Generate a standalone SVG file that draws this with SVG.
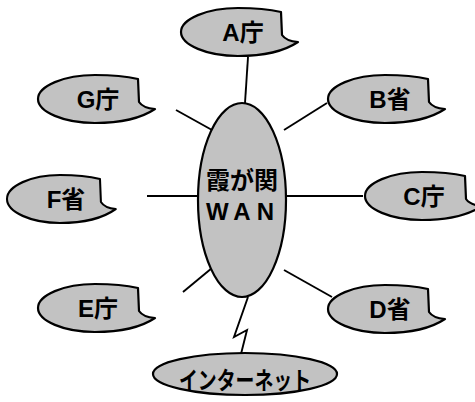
<svg xmlns="http://www.w3.org/2000/svg" xmlns:xlink="http://www.w3.org/1999/xlink" width="475" height="402" viewBox="0 0 475 402">
<style>
.sh{fill:#c2c2c2;stroke:#000;stroke-width:2.2;stroke-linejoin:round}
.ln{stroke:#000;stroke-width:1.9;fill:none}
.t{font-family:"Liberation Sans","Noto Sans CJK JP",sans-serif;font-weight:bold;font-size:24px;fill:#000;text-anchor:middle}
</style>
<defs>
<path id="bub" d="M43,-20 C30,-23 15,-24 0,-24 C-31,-24 -57,-13 -57,0 C-57,13 -31,24 0,24 C25,24 45,20 60,10 Q48,9 44,3 L43,-20 Z"/>
</defs>
<rect width="475" height="402" fill="#fff"/>
<g id="connectors">
<line class="ln" x1="248" y1="57" x2="245" y2="103"/>
<line class="ln" x1="176" y1="110" x2="212" y2="130"/>
<line class="ln" x1="327" y1="103" x2="284" y2="130"/>
<line class="ln" x1="147" y1="196" x2="198" y2="196"/>
<line class="ln" x1="287" y1="196" x2="363" y2="196"/>
<line class="ln" x1="183" y1="292" x2="212" y2="268"/>
<line class="ln" x1="284" y1="270" x2="332" y2="297"/>
<polyline class="ln" points="248,297 234,337 247,330 241,354"/>
</g>
<g id="wan">
<ellipse class="sh" cx="242" cy="200" rx="44" ry="97"/>
<text class="t" x="242" y="189">霞が関</text>
<text class="t" x="243" y="220" letter-spacing="6">WAN</text>
</g>
<g id="internet">
<ellipse class="sh" cx="245" cy="374" rx="92" ry="21"/>
<text class="t" x="245" y="389" font-size="22" textLength="132" lengthAdjust="spacingAndGlyphs">インターネット</text>
</g>
<g id="a"><use xlink:href="#bub" class="sh" transform="translate(238,32)"/><text class="t" x="243" y="41">A庁</text></g>
<g id="g"><use xlink:href="#bub" class="sh" transform="translate(95,99)"/><text class="t" x="98" y="108">G庁</text></g>
<g id="b"><use xlink:href="#bub" class="sh" transform="translate(385,99)"/><text class="t" x="390" y="108">B省</text></g>
<g id="f"><use xlink:href="#bub" class="sh" transform="translate(60,199) scale(0.93,1)"/><text class="t" x="66" y="208">F省</text></g>
<g id="c"><use xlink:href="#bub" class="sh" transform="translate(422,196)"/><text class="t" x="424" y="205">C庁</text></g>
<g id="e"><use xlink:href="#bub" class="sh" transform="translate(95,308)"/><text class="t" x="98" y="317">E庁</text></g>
<g id="d"><use xlink:href="#bub" class="sh" transform="translate(385,309)"/><text class="t" x="390" y="318">D省</text></g>
</svg>
